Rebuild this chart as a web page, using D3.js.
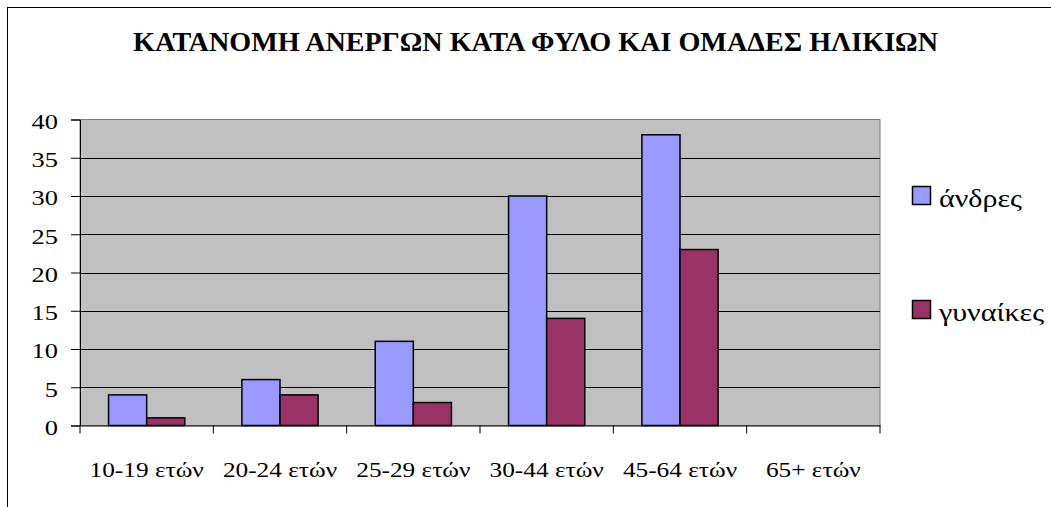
<!DOCTYPE html>
<html>
<head>
<meta charset="utf-8">
<script src="https://cdn.jsdelivr.net/npm/d3@7/dist/d3.min.js"></script>
<style>
  body { margin: 0; background: #fff; }
  text { font-family: "Liberation Serif", "Times New Roman", serif; fill: #000; }
</style>
</head>
<body>
<div id="chart"></div>
<script>
var categories = ['10-19 ετών', '20-24 ετών', '25-29 ετών', '30-44 ετών', '45-64 ετών', '65+ ετών'];
var men = [4, 6, 11, 30, 38, 0];
var women = [1, 4, 3, 14, 23, 0];
var seriesNames = ['άνδρες', 'γυναίκες'];
var seriesColors = ['#9999FF', '#993366'];
var yTicks = [0, 5, 10, 15, 20, 25, 30, 35, 40];
var title = 'ΚΑΤΑΝΟΜΗ ΑΝΕΡΓΩΝ ΚΑΤΑ ΦΥΛΟ ΚΑΙ ΟΜΑΔΕΣ ΗΛΙΚΙΩΝ';

var W = 1051, H = 507;
var FONT = '"Liberation Serif", "Times New Roman", serif';
var plot = {left: 80, top: 119.5, right: 880, bottom: 425.5};

// the original text is drawn a bit wider than the font, stretch it sideways
function stretch(sel, k) {
  sel.each(function() {
    var w = this.getComputedTextLength();
    d3.select(this).attr('textLength', w * k).attr('lengthAdjust', 'spacingAndGlyphs');
  });
}

var svg = d3.select('#chart').append('svg')
  .attr('width', W).attr('height', H);

// chart frame (cut by the picture at right and bottom)
svg.append('rect')
  .attr('x', 7.5).attr('y', 7.5)
  .attr('width', W + 20).attr('height', H + 20)
  .attr('fill', '#fff').attr('stroke', '#000').attr('stroke-width', 1);

svg.append('text')
  .attr('x', 535.5).attr('y', 50.5)
  .attr('text-anchor', 'middle')
  .attr('textLength', 805).attr('lengthAdjust', 'spacingAndGlyphs')
  .style('font-size', '27px').style('font-weight', 'bold')
  .text(title);

var x = d3.scaleBand().domain(categories)
  .range([plot.left, plot.right]);
var barW = x.bandwidth() / 3.5;
var y = d3.scaleLinear().domain([0, 40]).range([plot.bottom, plot.top]);

// plot area
svg.append('rect')
  .attr('x', plot.left).attr('y', plot.top)
  .attr('width', plot.right - plot.left).attr('height', plot.bottom - plot.top)
  .attr('fill', '#C0C0C0').attr('stroke', '#808080').attr('stroke-width', 1);

// gridlines
svg.append('g').selectAll('line')
  .data(yTicks.filter(function(d){ return d > 0 && d < 40; }))
  .enter().append('line')
    .attr('x1', plot.left).attr('x2', plot.right)
    .attr('y1', function(d){ return Math.round(y(d)) + 0.5; })
    .attr('y2', function(d){ return Math.round(y(d)) + 0.5; })
    .attr('stroke', '#000').attr('stroke-width', 1);

// bars
var groups = [men, women];
groups.forEach(function(vals, si) {
  svg.append('g').selectAll('rect')
    .data(vals.map(function(v, i){ return {c: categories[i], v: v}; })
      .filter(function(d){ return d.v > 0; }))
    .enter().append('rect')
      .attr('x', function(d){ return x(d.c) + barW * 0.75 + si * barW; })
      .attr('y', function(d){ return y(d.v); })
      .attr('width', barW)
      .attr('height', function(d){ return y(0) - y(d.v); })
      .attr('fill', seriesColors[si])
      .attr('stroke', '#000').attr('stroke-width', 1.5);
});

// y axis
var yAxis = svg.append('g')
  .attr('transform', 'translate(' + plot.left + ',0)')
  .call(d3.axisLeft(y).tickValues(yTicks).tickSize(9).tickPadding(13));
yAxis.select('.domain').attr('stroke', '#000');
yAxis.selectAll('line').attr('stroke', '#000');
yAxis.selectAll('text').style('font-size', '22px').style('font-family', FONT)
  .attr('dy', '0.4em');
stretch(yAxis.selectAll('text'), 1.2);

// x axis
var xAxis = svg.append('g')
  .attr('transform', 'translate(0,' + plot.bottom + ')')
  .call(d3.axisBottom(x).tickSize(0).tickPadding(35.5));
xAxis.select('.domain').attr('stroke', '#000');
xAxis.selectAll('text').style('font-size', '22px').style('font-family', FONT);
stretch(xAxis.selectAll('text'), 1.15);
xAxis.selectAll('.sep')
  .data(categories.map(function(c){ return x(c); }).concat([plot.right]))
  .enter().append('line')
    .attr('x1', function(d){ return d; }).attr('x2', function(d){ return d; })
    .attr('y1', 0).attr('y2', 8)
    .attr('stroke', '#000');

// legend
var legendTop = [186, 300];
seriesNames.forEach(function(name, i) {
  svg.append('rect')
    .attr('x', 912.5).attr('y', legendTop[i] + 0.5)
    .attr('width', 18).attr('height', 18)
    .attr('fill', seriesColors[i]).attr('stroke', '#000').attr('stroke-width', 1.5);
  var t = svg.append('text')
    .attr('x', 939).attr('y', legendTop[i] + 20.5)
    .style('font-size', '25px')
    .text(name);
  stretch(t, 1.2);
});
</script>
</body>
</html>
